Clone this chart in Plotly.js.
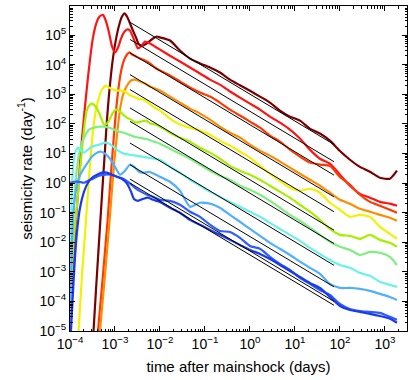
<!DOCTYPE html>
<html>
<head>
<meta charset="utf-8">
<script src="https://cdn.plot.ly/plotly-3.0.1.min.js"></script>
<style>html,body{margin:0;padding:0;background:#fff}#chart{width:415px;height:380px}</style>
</head>
<body>
<div id="chart"></div>
<script>
// shared time grid for the later part of each curve (days)
const tGrid = [1.0e-2, 1.67e-2, 2.78e-2, 4.64e-2, 7.74e-2, 0.129, 0.215, 0.359, 0.599, 1.0, 1.67, 2.78, 4.64, 7.74, 12.9, 21.5, 35.9, 59.9, 100, 167, 278, 464, 774, 1290, 1850];

// early parts (own times) + rates on tGrid
const maroonT0 = [3.33e-4, 3.78e-4, 4.30e-4, 4.89e-4, 5.41e-4, 5.99e-4, 6.64e-4, 7.36e-4, 8.15e-4, 9.03e-4, 1.05e-3, 1.23e-3, 1.43e-3, 1.63e-3, 1.85e-3, 2.15e-3, 2.51e-3, 2.93e-3, 3.41e-3, 4.19e-3, 5.41e-3, 6.99e-3, 8.58e-3];
const maroonR0 = [1e-5, 2.4e-4, 5.5e-3, 0.12, 1.3, 13, 140, 970, 4.6e3, 1.7e4, 7.1e4, 2.1e5, 4.2e5, 5.4e5, 4.2e5, 2.5e5, 1.4e5, 8.3e4, 4.8e4, 4.4e4, 5.6e4, 7.6e4, 8.9e4];
const maroonR = [8.3e4, 6.5e4, 3.0e4, 1.6e4, 1.1e4, 8.0e3, 5.4e3, 3.1e3, 2.0e3, 1.3e3, 830, 520, 280, 175, 128, 69, 47, 27, 12, 6.1, 3.5, 2.4, 1.5, 1.4, 2.6];

const redT0 = [1.02e-4, 1.11e-4, 1.23e-4, 1.36e-4, 1.55e-4, 1.76e-4, 2.10e-4, 2.51e-4, 3.19e-4, 3.78e-4, 4.52e-4, 5.41e-4, 6.31e-4, 7.36e-4, 8.58e-4, 1.0e-3, 1.17e-3, 1.36e-3, 1.58e-3, 1.85e-3, 2.15e-3, 2.64e-3, 3.24e-3, 3.78e-3, 4.64e-3, 5.99e-3, 7.74e-3];
const redR0 = [1e-5, 3.6e-4, 5.5e-3, 5.7e-2, 0.87, 13.4, 260, 3.7e3, 7.1e4, 2.3e5, 4.2e5, 4.8e5, 2.9e5, 1.22e5, 4.1e4, 2.6e4, 3.8e4, 7.6e4, 1.22e5, 1.54e5, 1.42e5, 7.1e4, 3.5e4, 4.1e4, 6.0e4, 5.2e4, 4.1e4];
const redR = [3.2e4, 2.0e4, 1.27e4, 8.0e3, 5.0e3, 3.1e3, 2.1e3, 1.23e3, 770, 480, 300, 175, 110, 64, 32, 13.4, 6.6, 4.5, 1.9, 0.81, 0.43, 0.32, 0.23, 0.20, 0.17];

const redOrT0 = [4.19e-4, 5.41e-4, 6.81e-4, 8.58e-4, 1.05e-3, 1.20e-3, 1.36e-3, 1.58e-3, 1.85e-3, 2.10e-3, 2.39e-3, 2.93e-3, 3.59e-3, 4.64e-3, 5.99e-3, 7.74e-3];
const redOrR0 = [1e-5, 7.9e-4, 4.9e-2, 6.1, 260, 1.68e3, 5.8e3, 1.38e4, 2.2e4, 2.6e4, 2.2e4, 1.88e4, 1.61e4, 1.38e4, 1.09e4, 8.0e3];
const redOrR = [6.3e3, 4.3e3, 2.7e3, 1.68e3, 1.14e3, 830, 520, 300, 190, 119, 74, 40, 25, 13.4, 7.8, 4.9, 4.2, 3.8, 1.6, 0.87, 0.40, 0.23, 0.17, 0.124, 0.099];

const orangeT0 = [4.64e-4, 5.99e-4, 7.55e-4, 9.50e-4, 1.11e-3, 1.29e-3, 1.51e-3, 1.85e-3, 2.27e-3, 2.78e-3, 3.59e-3, 4.64e-3, 5.99e-3, 7.74e-3];
const orangeR0 = [1e-5, 7.9e-4, 4.9e-2, 4.15, 43, 300, 970, 1.96e3, 2.9e3, 3.1e3, 2.7e3, 2.3e3, 1.81e3, 1.55e3];
const orangeR = [1.33e3, 830, 520, 326, 221, 138, 80, 50, 34, 19.7, 12.4, 8.4, 5.3, 3.3, 2.06, 1.29, 0.81, 0.47, 0.27, 0.20, 0.135, 0.107, 0.084, 0.067, 0.053];

const yellowT0 = [1.55e-4, 1.85e-4, 2.27e-4, 2.78e-4, 3.24e-4, 3.78e-4, 4.41e-4, 5.14e-4, 6.31e-4, 7.36e-4, 9.03e-4, 1.11e-3, 1.36e-3, 1.67e-3, 2.05e-3, 2.51e-3, 3.24e-3, 4.19e-3, 5.41e-3, 6.99e-3];
const yellowR0 = [1e-5, 7.9e-4, 5.7e-2, 4.15, 54, 300, 770, 1.44e3, 1.96e3, 1.68e3, 1.44e3, 1.33e3, 1.33e3, 1.23e3, 970, 830, 710, 660, 520, 380];
const yellowR = [279, 150, 94, 74, 59, 43, 27, 18.3, 11.4, 7.2, 3.8, 2.06, 1.19, 0.69, 0.55, 0.64, 0.47, 0.215, 0.124, 0.072, 0.084, 0.072, 0.033, 0.019, 0.013];

const ygT0 = [1.02e-4, 1.11e-4, 1.23e-4, 1.43e-4, 1.58e-4, 1.85e-4, 2.15e-4, 2.39e-4, 2.64e-4, 3.08e-4, 3.59e-4, 4.19e-4, 4.89e-4, 5.70e-4, 6.64e-4, 7.74e-4, 9.03e-4, 1.05e-3, 1.23e-3, 1.51e-3, 1.85e-3, 2.27e-3, 2.93e-3, 3.78e-3, 4.89e-3, 6.31e-3, 8.15e-3];
const ygR0 = [1.1e-4, 1.7e-3, 1.77e-2, 0.18, 1.0, 13.4, 119, 300, 410, 480, 410, 280, 162, 94, 101, 150, 240, 300, 280, 204, 162, 138, 110, 119, 128, 101, 94];
const ygR = [80, 50, 34, 25, 15.6, 10.6, 6.6, 3.8, 2.6, 1.9, 1.29, 0.81, 0.51, 0.32, 0.184, 0.107, 0.057, 0.028, 0.0177, 0.0164, 0.013, 0.0177, 0.012, 0.0095, 0.007];

const lgT0 = [1.02e-4, 1.08e-4, 1.17e-4, 1.29e-4, 1.43e-4, 1.67e-4, 2.05e-4, 2.64e-4, 3.41e-4, 4.41e-4, 5.70e-4, 7.36e-4, 9.50e-4, 1.23e-3, 1.58e-3, 2.05e-3, 2.64e-3, 3.41e-3, 4.41e-3, 5.70e-3, 7.36e-3];
const lgR0 = [3.5e-5, 1.16e-3, 3.9e-2, 0.59, 3.3, 13.4, 34, 64, 74, 80, 80, 74, 64, 54, 50, 43, 37, 34, 31.5, 29, 25];
const lgR = [21.3, 14.4, 9.8, 6.6, 4.15, 2.6, 1.76, 1.29, 0.81, 0.59, 0.40, 0.25, 0.146, 0.084, 0.053, 0.031, 0.0177, 0.0103, 0.007, 0.0055, 0.0037, 0.0047, 0.0044, 0.0032, 0.0017];

const cyanT0 = [1.01e-4, 1.03e-4, 1.06e-4, 1.11e-4, 1.20e-4, 1.33e-4, 1.51e-4, 1.76e-4, 2.05e-4, 2.51e-4, 3.08e-4, 4.41e-4, 6.31e-4, 8.58e-4, 1.17e-3, 1.58e-3, 2.15e-3, 2.93e-3, 3.98e-3, 5.41e-3, 7.36e-3];
const cyanR0 = [1e-5, 5.3e-4, 5.7e-2, 0.87, 5.2, 11.4, 15.6, 12.4, 10.6, 13.4, 16.9, 19.7, 23, 18.3, 12.4, 9.8, 9.0, 8.4, 7.8, 7.2, 6.6];
const cyanR = [6.1, 3.55, 2.23, 1.29, 0.81, 0.51, 0.34, 0.23, 0.157, 0.107, 0.072, 0.045, 0.028, 0.0177, 0.0111, 0.0064, 0.004, 0.0025, 0.0017, 0.00136, 0.00092, 0.00073, 0.00046, 0.00036, 0.00031];

const lbT0 = [1.02e-4, 1.05e-4, 1.11e-4, 1.20e-4, 1.36e-4, 1.58e-4, 1.95e-4, 2.39e-4, 3.08e-4, 3.98e-4, 4.89e-4, 5.99e-4, 7.74e-4, 1.0e-3, 1.29e-3, 1.67e-3, 2.15e-3, 2.64e-3, 3.41e-3, 4.41e-3, 5.70e-3, 7.36e-3];
const lbR0 = [1e-5, 3.6e-4, 1.2e-2, 0.124, 0.59, 1.51, 2.8, 4.5, 7.8, 10.6, 11.4, 9.8, 6.6, 3.55, 1.91, 2.6, 4.15, 3.55, 2.4, 2.2, 2.4, 2.06];
const lbR = [1.63, 1.10, 0.55, 0.157, 0.215, 0.20, 0.146, 0.084, 0.049, 0.028, 0.0164, 0.0095, 0.006, 0.0037, 0.0022, 0.00136, 0.00085, 0.00039, 0.000285, 0.000285, 0.000264, 0.000226, 0.000179, 0.000141, 0.000112];

const blueAT0 = [1.01e-4, 1.23e-4, 1.58e-4, 2.05e-4, 2.51e-4, 3.24e-4, 4.41e-4, 5.99e-4, 8.15e-4, 1.11e-3, 1.51e-3, 2.05e-3, 2.78e-3, 3.78e-3, 5.14e-3, 6.99e-3];
const blueAR0 = [1.02, 1.10, 1.10, 1.02, 1.19, 1.39, 1.76, 1.91, 1.91, 1.63, 1.39, 1.02, 0.69, 0.51, 0.40, 0.34];
const blueAR = [0.27, 0.25, 0.184, 0.107, 0.072, 0.039, 0.024, 0.022, 0.014, 0.0075, 0.006, 0.0032, 0.00185, 0.00116, 0.00062, 0.00039, 0.000244, 0.000165, 8.2e-5, 5.5e-5, 4.7e-5, 4.4e-5, 4.1e-5, 3.0e-5, 2.4e-5];

const blueBT0 = [1.05e-4, 1.14e-4, 1.26e-4, 1.43e-4, 1.67e-4, 2.05e-4, 2.51e-4, 3.08e-4, 3.98e-4, 5.14e-4, 6.64e-4, 8.58e-4, 1.11e-3, 1.43e-3, 1.85e-3, 2.27e-3, 2.64e-3, 3.24e-3, 4.19e-3, 5.41e-3, 6.99e-3];
const blueBR0 = [1e-5, 1.12e-4, 1.71e-3, 2.24e-2, 0.146, 0.51, 1.02, 1.51, 1.91, 2.23, 2.23, 1.91, 1.63, 1.39, 0.95, 0.51, 0.29, 0.25, 0.29, 0.32, 0.27];
const blueBR = [0.23, 0.146, 0.099, 0.057, 0.039, 0.026, 0.0177, 0.012, 0.0081, 0.0055, 0.004, 0.0027, 0.0017, 0.00107, 0.00067, 0.00042, 0.000285, 0.000141, 7.0e-5, 5.1e-5, 4.4e-5, 3.8e-5, 3.2e-5, 2.6e-5, 1.9e-5];

// Omori fits: start/end of each straight line
const fitT = [2.15e-3, 73.6];
const fitStart = [2.7e5, 7.1e4, 2.5e4, 4.6e3, 1.44e3, 345, 121, 22.5, 4.15, 1.36, 1.0];
const fitEnd = [20, 5.25, 1.85, 0.34, 0.107, 0.0255, 0.009, 1.66e-3, 3.1e-4, 1.0e-4, 7.4e-5];

const xTickVals = [1e-4, 1e-3, 1e-2, 1e-1, 1, 10, 100, 1000];
const xTickText = ['10<sup>−4</sup>', '10<sup>−3</sup>', '10<sup>−2</sup>', '10<sup>−1</sup>', '10<sup>0</sup>', '10<sup>1</sup>', '10<sup>2</sup>', '10<sup>3</sup>'];
const yTickVals = [1e-5, 1e-4, 1e-3, 1e-2, 1e-1, 1, 10, 100, 1e3, 1e4, 1e5];
const yTickText = ['10<sup>−5</sup>', '10<sup>−4</sup>', '10<sup>−3</sup>', '10<sup>−2</sup>', '10<sup>−1</sup>', '10<sup>0</sup>', '10<sup>1</sup>', '10<sup>2</sup>', '10<sup>3</sup>', '10<sup>4</sup>', '10<sup>5</sup>'];

const curves = [
  [maroonT0, maroonR0, maroonR, '#7a0000'],
  [redT0, redR0, redR, '#ff1414'],
  [redOrT0, redOrR0, redOrR, '#ff3a00'],
  [orangeT0, orangeR0, orangeR, '#ff8c00'],
  [yellowT0, yellowR0, yellowR, '#f2f200'],
  [ygT0, ygR0, ygR, '#a8ee00'],
  [lgT0, lgR0, lgR, '#80ee80'],
  [cyanT0, cyanR0, cyanR, '#6af2e6'],
  [lbT0, lbR0, lbR, '#50b0ff'],
  [blueAT0, blueAR0, blueAR, '#2e5cff'],
  [blueBT0, blueBR0, blueBR, '#1a3af0']
];

let data = [];
curves.forEach(c => {
  data.push({
    x: c[0].concat(tGrid),
    y: c[1].concat(c[2]),
    type: 'scatter', mode: 'lines',
    line: {color: c[3], width: 2.2, shape: 'spline', smoothing: 0.6},
    hoverinfo: 'none'
  });
});
fitStart.forEach((s, i) => {
  data.push({
    x: fitT, y: [s, fitEnd[i]],
    type: 'scatter', mode: 'lines',
    line: {color: '#000', width: 1},
    hoverinfo: 'none'
  });
});

function minorVals(lo, hi) {
  let v = [];
  for (let e = lo; e < hi; e++) for (let m = 2; m <= 9; m++) v.push(m * Math.pow(10, e));
  return v;
}

const fnt = 'Liberation Sans, Arial, Helvetica, sans-serif';
const axisBase = {
  type: 'log', showgrid: false, zeroline: false,
  showline: true, linecolor: '#000', linewidth: 1, mirror: 'allticks',
  ticks: 'inside', ticklen: 5, tickcolor: '#000', tickwidth: 1,
  tickmode: 'array', tickfont: {family: fnt, size: 14, color: '#000'}
};

const layout = {
  width: 415, height: 380,
  margin: {l: 70, r: 8, t: 6, b: 49},
  paper_bgcolor: '#fff', plot_bgcolor: '#fff',
  showlegend: false,
  font: {family: fnt, color: '#000'},
  xaxis: Object.assign({}, axisBase, {
    range: [-4, 3.49],
    tickvals: xTickVals, ticktext: xTickText,
    minor: {tickmode: 'array', tickvals: minorVals(-4, 4), ticks: 'inside', ticklen: 2.5, tickcolor: '#000'},
    title: {text: 'time after mainshock (days)', font: {family: fnt, size: 15, color: '#000'}, standoff: 10}
  }),
  yaxis: Object.assign({}, axisBase, {
    range: [-5, 5.98],
    tickvals: yTickVals, ticktext: yTickText,
    minor: {tickmode: 'array', tickvals: minorVals(-5, 6), ticks: 'inside', ticklen: 2.5, tickcolor: '#000'},
    title: {text: 'seismicity rate (day<sup>-1</sup>)', font: {family: fnt, size: 15, color: '#000'}, standoff: 3}
  })
};

Plotly.newPlot('chart', data, layout, {staticPlot: true});
</script>
</body>
</html>
